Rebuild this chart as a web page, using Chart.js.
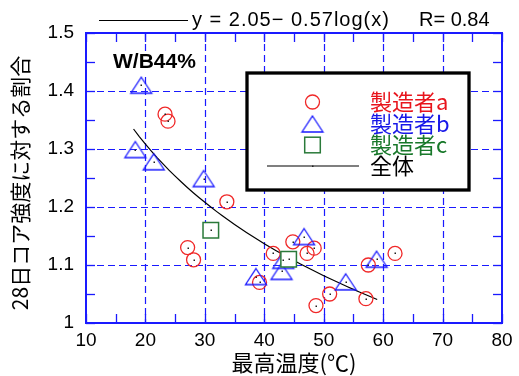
<!DOCTYPE html>
<html>
<head>
<meta charset="utf-8">
<script src="https://cdn.jsdelivr.net/npm/chart.js@4/dist/chart.umd.min.js"></script>
<style>
  html, body { margin: 0; padding: 0; background: #ffffff; }
  #wrap { width: 519px; height: 376px; }
</style>
</head>
<body>
<div id="wrap"><canvas id="c" width="519" height="376"></canvas></div>
<script>
// ---- data: maximum temperature (°C) vs ratio to 28-day core strength ----
const makerATemp  = [23.3, 23.8, 33.7, 27.1, 28.1, 39.2, 41.5, 44.8, 47.2, 48.4, 48.7, 51.0, 57.1, 57.5, 62.0];
const makerARatio = [1.360, 1.348, 1.209, 1.130, 1.109, 1.070, 1.120, 1.140, 1.120, 1.129, 1.030, 1.050, 1.042, 1.100, 1.120];

const makerBTemp  = [19.3, 18.3, 21.4, 29.8, 38.6, 43.2, 42.9, 46.7, 53.7, 58.9];
const makerBRatio = [1.410, 1.299, 1.278, 1.249, 1.080, 1.108, 1.089, 1.149, 1.071, 1.110];

const makerCTemp  = [31.0, 44.1];
const makerCRatio = [1.160, 1.110];

// regression over all data: y = a - b*log10(x)
const fitA = 2.05;
const fitB = 0.57;
const fitR = 0.84;
const fitTemps = [];
for (let t = 18; t <= 59; t += 1) fitTemps.push(t);

const seriesNames = ['製造者a', '製造者b', '製造者c', '全体'];
const xTitle = '最高温度(℃)';
const yTitle = '28日コア強度に対する割合';
const mixLabel = 'W/B44%';

const xMin = 10, xMax = 80, xStep = 10, xMinorStep = 5;
const yMin = 1, yMax = 1.5, yStep = 0.1, yMinorStep = 0.05;

// ---- styles ----
const BLUE = '#1a1aff';
const RED = '#f02828';
const GREEN = '#2a7a3a';
const TEXT_RED = '#e8141c';
const TEXT_BLUE = '#1818e8';
const TEXT_GREEN = '#18782a';
const LATIN = '"Liberation Sans", Arial, sans-serif';
const CJK = '"Noto Sans CJK JP", "Noto Sans", sans-serif';

const pts = (xs, ys) => xs.map((v, i) => ({x: v, y: ys[i]}));
const fitPoints = fitTemps.map(t => ({x: t, y: fitA - fitB * Math.log10(t)}));

// open triangle marker, bounding box centred on the point
function triangleImage() {
  const c = document.createElement('canvas');
  c.width = 26; c.height = 22;
  const g = c.getContext('2d');
  g.strokeStyle = BLUE; g.lineWidth = 1.3;
  g.beginPath();
  g.moveTo(13, 3); g.lineTo(23.5, 19); g.lineTo(2.5, 19); g.closePath();
  g.stroke();
  return c;
}
const triImg = triangleImage();

function strokeLine(ctx, x1, y1, x2, y2) {
  ctx.beginPath(); ctx.moveTo(x1, y1); ctx.lineTo(x2, y2); ctx.stroke();
}

const framePlugin = {
  id: 'frame',
  beforeDatasetsDraw(chart) {
    const {ctx, chartArea: a, scales: {x, y}} = chart;
    ctx.save();
    ctx.strokeStyle = BLUE; ctx.lineWidth = 1.2; ctx.setLineDash([7, 4]);
    x.ticks.forEach(t => {
      if (t.value > xMin && t.value < xMax) {
        const px = Math.round(x.getPixelForValue(t.value)) + 0.5;
        strokeLine(ctx, px, a.top, px, a.bottom);
      }
    });
    y.ticks.forEach(t => {
      if (t.value > yMin + 1e-9 && t.value < yMax - 1e-9) {
        const py = Math.round(y.getPixelForValue(t.value)) + 0.5;
        strokeLine(ctx, a.left, py, a.right, py);
      }
    });
    ctx.restore();
  },
  afterDatasetsDraw(chart) {
    const {ctx, chartArea: a, scales: {x, y}} = chart;
    ctx.save();
    // small centre dots on every marker
    ctx.fillStyle = '#202020';
    chart.data.datasets.forEach((ds, i) => {
      if (ds.type === 'line') return;
      chart.getDatasetMeta(i).data.forEach(el => ctx.fillRect(Math.round(el.x) - 0.5, Math.round(el.y) - 0.5, 1.5, 1.5));
    });
    // inward tick marks on all four sides
    const TL = 9;
    ctx.strokeStyle = BLUE; ctx.lineWidth = 1.3;
    for (let v = xMin; v <= xMax + 1e-9; v += xMinorStep) {
      const px = Math.round(x.getPixelForValue(v)) + 0.5;
      strokeLine(ctx, px, a.bottom, px, a.bottom - TL);
      strokeLine(ctx, px, a.top, px, a.top + TL);
    }
    for (let v = yMin; v <= yMax + 1e-9; v += yMinorStep) {
      const py = Math.round(y.getPixelForValue(v)) + 0.5;
      strokeLine(ctx, a.left, py, a.left + TL, py);
      strokeLine(ctx, a.right, py, a.right - TL, py);
    }
    // plot frame
    ctx.lineWidth = 2;
    ctx.strokeRect(a.left, a.top, a.right - a.left, a.bottom - a.top);

    // mix label
    ctx.font = 'bold 21px ' + LATIN;
    ctx.textBaseline = 'middle'; ctx.textAlign = 'left';
    const mw = ctx.measureText(mixLabel).width;
    ctx.fillStyle = '#ffffff';
    ctx.fillRect(111, 51, mw + 4, 22);
    ctx.fillStyle = '#000000';
    ctx.fillText(mixLabel, 113, 62);

    // legend box
    ctx.fillStyle = '#ffffff';
    ctx.fillRect(247, 73, 222, 117);
    ctx.strokeStyle = '#000000'; ctx.lineWidth = 3.3;
    ctx.strokeRect(247, 73, 222, 117);
    const mx = 312.5;
    const rows = [102, 124, 145, 166];
    // circle
    ctx.lineWidth = 1.3; ctx.strokeStyle = RED;
    ctx.beginPath(); ctx.arc(mx, rows[0], 7, 0, Math.PI * 2); ctx.stroke();
    // triangle
    ctx.drawImage(triImg, mx - triImg.width / 2, rows[1] - triImg.height / 2);
    // square
    ctx.strokeStyle = GREEN; ctx.lineWidth = 1.5;
    ctx.strokeRect(mx - 7.8, rows[2] - 7.8, 15.6, 15.6);
    // line
    ctx.strokeStyle = '#000000'; ctx.lineWidth = 1.2;
    strokeLine(ctx, 267, rows[3], 359, rows[3]);
    ctx.fillStyle = '#202020'; ctx.fillRect(312, rows[3] - 0.5, 1.5, 1.5);
    ctx.font = '22px ' + CJK;
    ctx.textBaseline = 'middle';
    const cols = [TEXT_RED, TEXT_BLUE, TEXT_GREEN, '#000000'];
    seriesNames.forEach((n, i) => { ctx.fillStyle = cols[i]; ctx.fillText(n, 370, rows[i]); });
    ctx.restore();
  },
  afterDraw(chart) {
    const {ctx} = chart;
    ctx.save();
    // regression equation above the plot
    ctx.strokeStyle = '#000000'; ctx.lineWidth = 1;
    strokeLine(ctx, 99, 20.5, 188, 20.5);
    ctx.fillStyle = '#000000';
    ctx.font = '20px ' + LATIN;
    ctx.textBaseline = 'middle'; ctx.textAlign = 'left';
    ctx.letterSpacing = '1px';
    ctx.fillText('y = ' + fitA.toFixed(2) + '\u2212 ' + fitB.toFixed(2) + 'log(x)', 192, 20);
    ctx.letterSpacing = '0px';
    ctx.fillText('R= ' + fitR.toFixed(2), 419, 20);
    // axis titles
    ctx.font = '22px ' + CJK;
    ctx.textAlign = 'center';
    ctx.fillText(xTitle, 294, 363);
    ctx.font = '21px ' + CJK;
    ctx.translate(20, 183);
    ctx.rotate(-Math.PI / 2);
    ctx.fillText(yTitle, 0, 0);
    ctx.restore();
  }
};

new Chart(document.getElementById('c'), {
  type: 'scatter',
  data: {
    datasets: [
      {
        type: 'line', label: seriesNames[3], data: fitPoints,
        borderColor: '#000000', borderWidth: 1.2, pointRadius: 0, fill: false,
        tension: 0, order: 10
      },
      {
        label: seriesNames[0], data: pts(makerATemp, makerARatio),
        pointStyle: 'circle', pointRadius: 7, borderWidth: 1.3,
        borderColor: RED, backgroundColor: 'rgba(0,0,0,0)', order: 3
      },
      {
        label: seriesNames[1], data: pts(makerBTemp, makerBRatio),
        pointStyle: triImg, pointRadius: 11,
        borderColor: BLUE, backgroundColor: 'rgba(0,0,0,0)', order: 2
      },
      {
        label: seriesNames[2], data: pts(makerCTemp, makerCRatio),
        pointStyle: 'rect', pointRadius: 11, borderWidth: 1.5,
        borderColor: GREEN, backgroundColor: '#ffffff', order: 1
      }
    ]
  },
  options: {
    responsive: false,
    animation: false,
    events: [],
    layout: { padding: { left: 0, top: 33, right: 17, bottom: 0 } },
    plugins: { legend: { display: false }, tooltip: { enabled: false } },
    scales: {
      x: {
        type: 'linear', min: xMin, max: xMax,
        afterFit: s => { s.height = 53; },
        grid: { display: false, drawTicks: false },
        border: { display: false },
        ticks: { stepSize: xStep, padding: 6, color: '#000000', font: { family: LATIN, size: 19 }, maxRotation: 0 }
      },
      y: {
        type: 'linear', min: yMin, max: yMax,
        afterFit: s => { s.width = 86; },
        grid: { display: false, drawTicks: false },
        border: { display: false },
        ticks: {
          stepSize: yStep, padding: 12, color: '#000000', font: { family: LATIN, size: 19 },
          callback: v => String(Number(v.toFixed(1)))
        }
      }
    }
  },
  plugins: [framePlugin]
});
</script>
</body>
</html>
